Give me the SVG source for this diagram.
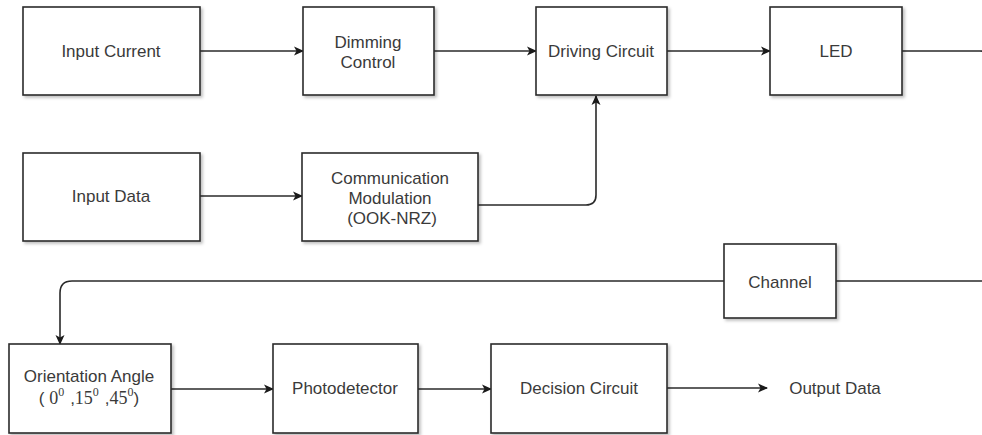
<svg xmlns="http://www.w3.org/2000/svg" width="982" height="435" viewBox="0 0 982 435">
<style>
.box{fill:#fff;stroke:#2a2a2a;stroke-width:1.6;filter:url(#sh)}
.t{font-family:"Liberation Sans",Arial,sans-serif;font-size:17px;fill:#3a3a3a;text-anchor:middle}
.s{font-family:"Liberation Serif","Times New Roman",serif;font-size:18px}
.sup{font-family:"Liberation Serif","Times New Roman",serif;font-size:12px}
.c{fill:none;stroke:#2a2a2a;stroke-width:1.6}
.a{marker-end:url(#ah)}
</style>
<defs>
<filter id="sh" x="-10%" y="-10%" width="130%" height="130%">
<feDropShadow dx="2" dy="2" stdDeviation="1.5" flood-color="#000" flood-opacity="0.25"/>
</filter>
<marker id="ah" viewBox="0 0 10 10" refX="9" refY="5" markerWidth="10" markerHeight="10" markerUnits="userSpaceOnUse" orient="auto">
<path d="M0,0.5 L10,5 L0,9.5 L2.5,5 z" fill="#1a1a1a"/>
</marker>
</defs>
<rect width="982" height="435" fill="#fff"/>
<g id="connectors">
<path class="c a" d="M200,51 H303"/>
<path class="c a" d="M434,51 H536"/>
<path class="c a" d="M667,51 H770"/>
<path class="c" d="M902,51 H980 Q988,51 988,59"/>
<path class="c a" d="M200,196 H302"/>
<path class="c a" d="M478,205 H586 Q596,205 596,195 V96"/>
<path class="c" d="M988,273 Q988,281 980,281 H836"/>
<path class="c a" d="M724,281 H72 Q60,281 60,293 V344"/>
<path class="c a" d="M171,389 H273"/>
<path class="c a" d="M418,389 H491"/>
<path class="c a" d="M667,388 H767"/>
</g>
<g id="input-current"><rect class="box" x="23" y="7" width="177" height="88"/><text class="t" x="111" y="57">Input Current</text></g>
<g id="dimming-control"><rect class="box" x="303" y="7" width="131" height="88"/><text class="t" x="368" y="48">Dimming</text><text class="t" x="368" y="68">Control</text></g>
<g id="driving-circuit"><rect class="box" x="536" y="7" width="131" height="88"/><text class="t" x="601" y="57">Driving Circuit</text></g>
<g id="led"><rect class="box" x="770" y="7" width="132" height="88"/><text class="t" x="836" y="57">LED</text></g>
<g id="input-data"><rect class="box" x="23" y="153" width="177" height="88"/><text class="t" x="111" y="202">Input Data</text></g>
<g id="communication-modulation"><rect class="box" x="302" y="153" width="176" height="88"/><text class="t" x="390" y="184">Communication</text><text class="t" x="390" y="204">Modulation</text><text class="t" x="392" y="224">(OOK-NRZ)</text></g>
<g id="channel"><rect class="box" x="724" y="244" width="112" height="74"/><text class="t" x="780" y="288">Channel</text></g>
<g id="orientation-angle"><rect class="box" x="9" y="344" width="162" height="89"/><text class="t" x="89" y="382">Orientation Angle</text><text class="t" x="89" y="404">( <tspan class="s">0</tspan><tspan class="sup" dy="-8">0</tspan><tspan dy="8" dx="6">,</tspan><tspan class="s">15</tspan><tspan class="sup" dy="-8">0</tspan><tspan dy="8" dx="6">,</tspan><tspan class="s">45</tspan><tspan class="sup" dy="-8">0</tspan><tspan dy="8">)</tspan></text></g>
<g id="photodetector"><rect class="box" x="273" y="344" width="145" height="89"/><text class="t" x="345" y="394">Photodetector</text></g>
<g id="decision-circuit"><rect class="box" x="491" y="344" width="176" height="89"/><text class="t" x="579" y="394">Decision Circuit</text></g>
<g id="output-data"><text class="t" x="835" y="394">Output Data</text></g>
</svg>
